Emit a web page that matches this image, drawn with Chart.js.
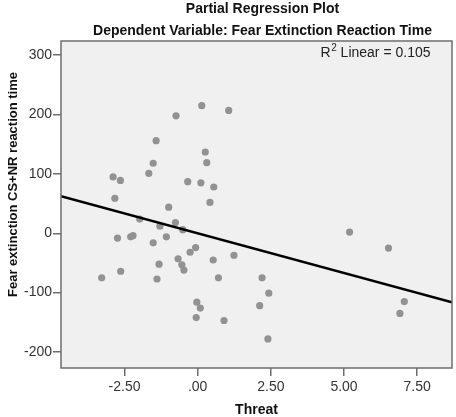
<!DOCTYPE html>
<html>
<head>
<meta charset="utf-8">
<script src="https://cdn.jsdelivr.net/npm/chart.js"></script>
<style>
html, body { margin: 0; padding: 0; background: #fff; }
</style>
</head>
<body>
<canvas id="myChart" width="456" height="417"></canvas>
<script>
// partial regression values
const threat = [0.14, 1.06, -0.74, -1.42, 0.26, 0.31, -1.52, -1.67, -2.89, -2.64,
  -0.34, 0.11, 0.55, -2.83, 0.42, -0.99, -1.98, -0.76, -1.29, -0.51,
  -2.74, -2.29, -2.21, -1.07, -1.52, -0.07, -0.26, 0.53, -0.67, -1.32,
  -0.54, -0.47, -2.63, -3.28, -1.39, 0.71, -0.03, 0.09, -0.05, 0.90,
  1.24, 2.20, 2.43, 2.12, 2.40, 5.19, 6.52, 7.06, 6.91];
const reactionTime = [215, 207, 198, 156, 137, 119, 118, 101, 95, 89,
  87, 85, 78, 59, 52, 44, 24, 18, 12, 6,
  -8, -6, -4, -6, -16, -24, -32, -45, -43, -52,
  -53, -62, -64, -75, -77, -75, -116, -126, -142, -147,
  -37, -75, -101, -122, -178, 2, -25, -115, -135];

const xTicks = [-2.5, 0, 2.5, 5, 7.5];
const yTicks = [-200, -100, 0, 100, 200, 300];
const xRange = [-4.67, 8.69];
const yRange = [-227, 324];

const fitSlope = -13.36;
const fitIntercept = -0.1;
const r2Linear = 0.105;

const titleLines = ["Partial Regression Plot", "Dependent Variable: Fear Extinction Reaction Time"];
const xTitle = "Threat";
const yTitle = "Fear extinction CS+NR reaction time";

const fontFam = '"Liberation Sans", Arial, sans-serif';

function fmtX(v) {
  var s = v.toFixed(2);
  if (s.indexOf("0.") == 0) s = s.slice(1);
  return s;
}

const spssFrame = {
  id: "spssFrame",
  beforeDraw(chart) {
    const ctx = chart.ctx, a = chart.chartArea;
    ctx.save();
    ctx.fillStyle = "#f0f0f0";
    ctx.fillRect(a.left, a.top, a.right - a.left, a.bottom - a.top);
    ctx.restore();
  },
  afterDraw(chart) {
    const ctx = chart.ctx, a = chart.chartArea;
    ctx.save();
    ctx.strokeStyle = "#6e6e6e";
    ctx.lineWidth = 1.5;
    ctx.strokeRect(a.left, a.top, a.right - a.left, a.bottom - a.top);

    // titles
    ctx.fillStyle = "#111";
    ctx.font = "bold 14px " + fontFam;
    ctx.textAlign = "center";
    ctx.textBaseline = "alphabetic";
    const cx = (a.left + a.right) / 2 + 6;
    ctx.fillText(titleLines[0], cx, 13);
    ctx.fillText(titleLines[1], cx, 35);

    // x title
    ctx.font = "bold 14px " + fontFam;
    ctx.fillText(xTitle, (a.left + a.right) / 2, 414);

    // y title
    ctx.save();
    ctx.translate(13.5, 184.5);
    ctx.rotate(-Math.PI / 2);
    ctx.font = "bold 13px " + fontFam;
    ctx.textBaseline = "middle";
    ctx.fillText(yTitle, 0, 0);
    ctx.restore();

    // R2 label
    ctx.fillStyle = "#222";
    ctx.textAlign = "left";
    ctx.font = "14px " + fontFam;
    const rest = " Linear = " + r2Linear.toFixed(3);
    const wR = ctx.measureText("R").width;
    const wRest = ctx.measureText(rest).width;
    ctx.font = "10px " + fontFam;
    const w2 = ctx.measureText("2").width;
    const xStart = a.right - 22 - (wR + w2 + wRest);
    const base = 56.5;
    ctx.font = "14px " + fontFam;
    ctx.fillText("R", xStart, base);
    ctx.font = "10px " + fontFam;
    ctx.fillText("2", xStart + wR + 0.5, base - 6);
    ctx.font = "14px " + fontFam;
    ctx.fillText(rest, xStart + wR + w2 + 0.5, base);
    ctx.restore();
  }
};

const points = threat.map((x, i) => ({ x: x, y: reactionTime[i] }));
const fitLine = xRange.map(x => ({ x: x, y: fitIntercept + fitSlope * x }));

const config = {
  type: "scatter",
  data: {
    datasets: [
      {
        type: "line",
        label: "Linear fit",
        data: fitLine,
        borderColor: "#000",
        borderWidth: 2.5,
        pointRadius: 0,
        fill: false,
        order: 0
      },
      {
        label: "Threat",
        data: points,
        backgroundColor: "#929292",
        borderWidth: 0,
        pointRadius: 3.6,
        order: 1
      }
    ]
  },
  options: {
    responsive: false,
    animation: false,
    layout: { padding: { top: 41, right: 3, left: 0, bottom: 0 } },
    plugins: {
      legend: { display: false },
      tooltip: { enabled: false },
      title: { display: false }
    },
    scales: {
      x: {
        type: "linear",
        min: xRange[0],
        max: xRange[1],
        afterBuildTicks: s => { s.ticks = xTicks.map(v => ({ value: v })); },
        afterFit: s => { s.height = 49; },
        border: { display: false },
        grid: { drawOnChartArea: false, drawTicks: true, tickLength: 8, tickColor: "#6e6e6e", lineWidth: 1.5 },
        ticks: {
          padding: 3,
          color: "#333",
          font: { family: fontFam, size: 14 },
          maxRotation: 0,
          callback: v => fmtX(v)
        }
      },
      y: {
        type: "linear",
        min: yRange[0],
        max: yRange[1],
        afterBuildTicks: s => { s.ticks = yTicks.map(v => ({ value: v })); },
        afterFit: s => { s.width = 61; },
        border: { display: false },
        grid: { drawOnChartArea: false, drawTicks: true, tickLength: 8, tickColor: "#6e6e6e", lineWidth: 1.5 },
        ticks: {
          padding: 1,
          color: "#333",
          font: { family: fontFam, size: 14 },
          callback: v => String(v)
        }
      }
    }
  },
  plugins: [spssFrame]
};

const chart = new Chart(document.getElementById("myChart"), config);
</script>
</body>
</html>
